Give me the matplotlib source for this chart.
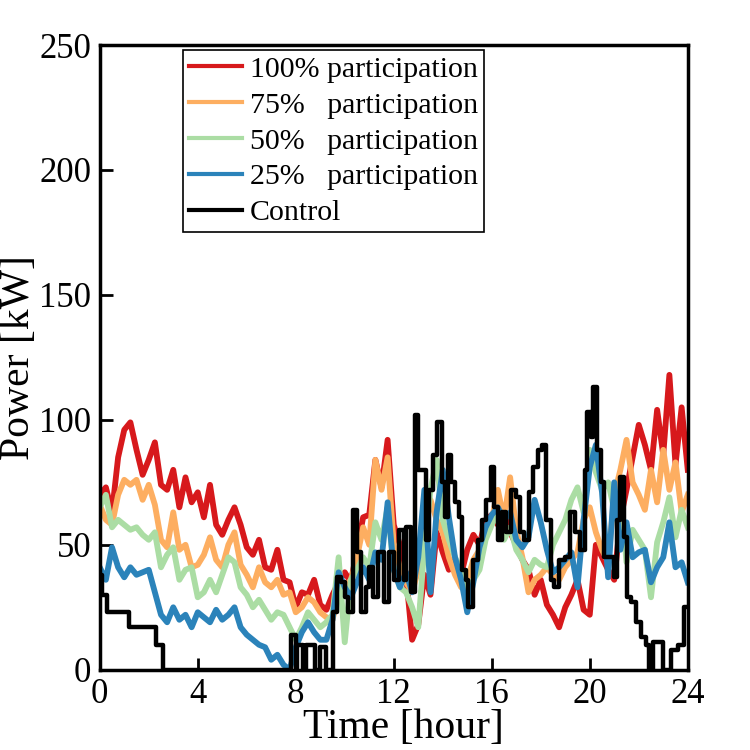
import numpy as np
import matplotlib
matplotlib.use('Agg')
import matplotlib.pyplot as plt

plt.rcParams['font.family'] = ['Liberation Serif', 'DejaVu Serif']

# time grid (hours), 15 min resolution
t = np.arange(0, 24.01, 0.25)

p100 = [70, 73, 63, 85, 96, 99, 88, 78, 84, 91, 74, 72, 80, 65, 77, 67,
        71, 61, 74, 58, 54, 60, 65, 58, 49, 46, 52, 41, 40, 48, 36, 35,
        25, 31, 30, 36, 26, 24, 30, 35, 39, 35, 48, 61, 62, 84, 73, 92,
        58, 50, 38, 12, 18, 38, 30, 55, 47, 40, 44, 38, 48, 54, 50, 60,
        62, 58, 64, 55, 50, 44, 40, 30, 36, 26, 22, 17, 25, 30, 36, 24,
        22, 50, 45, 40, 36, 60, 72, 85, 98, 90, 80, 104, 86, 118, 82, 105,
        80]

p75 = [66, 60, 58, 70, 76, 74, 76, 68, 74, 66, 52, 49, 63, 48, 50, 41,
       42, 46, 53, 44, 41, 50, 55, 42, 38, 33, 41, 35, 33, 36, 30, 31,
       23, 25, 29, 27, 23, 21, 20, 30, 33, 36, 45, 57, 50, 84, 72, 85,
       50, 41, 35, 31, 40, 57, 68, 60, 55, 45, 38, 33, 36, 44, 48, 55,
       60, 72, 60, 77, 56, 45, 31, 36, 38, 41, 38, 36, 41, 44, 47, 60,
       65, 55, 48, 43, 70, 80, 92, 75, 70, 64, 80, 67, 88, 72, 83, 63,
       70]

p50 = [65, 70, 57, 60, 58, 56, 57, 54, 52, 55, 41, 46, 49, 36, 40, 41,
       29, 31, 36, 31, 38, 45, 43, 33, 30, 25, 28, 24, 20, 23, 22, 17,
       12, 17, 23, 20, 17, 19, 22, 45, 11, 36, 40, 45, 41, 59, 52, 65,
       40, 33, 31, 25, 17, 49, 72, 84, 60, 52, 45, 40, 33, 36, 40, 52,
       58, 63, 52, 57, 48, 44, 39, 44, 42, 41, 50, 55, 60, 68, 73, 63,
       88, 79, 72, 75, 64, 72, 43, 56, 52, 48, 29, 51, 59, 69, 53, 64,
       57]

p25 = [41, 36, 49, 41, 37, 41, 38, 39, 40, 31, 22, 19, 25, 20, 22, 17,
       23, 21, 19, 24, 20, 22, 25, 17, 14, 12, 10, 9, 4, 6, 2, 0,
       9, 15, 19, 15, 12, 12, 20, 39, 33, 29, 35, 41, 36, 47, 44, 67,
       40, 33, 39, 31, 45, 72, 31, 63, 80, 61, 45, 36, 23, 35, 49, 57,
       62, 65, 60, 63, 52, 49, 53, 68, 59, 48, 39, 41, 44, 47, 33, 60,
       81, 90, 71, 37, 75, 48, 59, 45, 47, 48, 35, 41, 45, 59, 41, 43,
       35]

# control case is step-wise
t_ctrl = [0.0, 0.1, 0.3, 1.2, 2.3, 2.6, 7.8, 8.0, 8.05, 8.3, 8.4, 8.8,
          9.0, 9.25, 9.5, 9.7, 9.85, 10.0, 10.15, 10.35, 10.5, 10.65, 10.85,
          11.0, 11.15, 11.35, 11.6, 11.8, 12.0, 12.2, 12.4, 12.5, 12.7,
          12.85, 13.0, 13.3, 13.45, 13.6, 13.75, 13.95, 14.1, 14.2, 14.35,
          14.5, 14.65, 14.8, 14.95, 15.05, 15.25, 15.45, 15.6, 15.75, 15.95,
          16.1, 16.25, 16.4, 16.6, 16.8, 17.0, 17.15, 17.3, 17.5, 17.7,
          17.9, 18.05, 18.2, 18.4, 18.55, 18.75, 19.0, 19.2, 19.4, 19.6,
          19.8, 19.9, 20.05, 20.15, 20.3, 20.45, 20.6, 20.8, 21.0, 21.1,
          21.25, 21.4, 21.5, 21.7, 21.9, 22.1, 22.3, 22.4, 22.6, 23.0,
          23.3, 23.6, 23.85, 24.0]
p_ctrl = [38, 30, 23, 17, 10, 0, 14, 0, 10, 0, 10, 0,
          9, 0, 23, 37, 35, 29, 23, 64, 47, 23, 33,
          41, 29, 47, 27, 47, 36, 56, 36, 57, 31,
          102, 80, 52, 72, 86, 99, 75, 61, 86, 75,
          67, 61, 40, 36, 25, 44, 52, 60, 68, 81,
          65, 52, 63, 55, 72, 69, 55, 52, 71, 81,
          88, 90, 60, 36, 33, 44, 45, 63, 55, 48,
          80, 103, 93, 113, 88, 75, 45, 45, 37, 60,
          77, 53, 29, 27, 19, 13, 10, 0, 11, 0,
          8, 10, 25, 25]

labels = ['100% participation', '75%   participation', '50%   participation',
          '25%   participation', 'Control']
colors = ['#d7191c', '#fdae61', '#abdda4', '#2b83ba', 'black']

fig = plt.figure(figsize=(7.5, 7.5), dpi=100)
ax = fig.add_axes([0.133, 0.107, 0.784, 0.833])

for y, lab, c in zip([p100, p75, p50, p25], labels[:4], colors[:4]):
    ax.plot(t, y, color=c, lw=4.2, label=lab)
ax.plot(t_ctrl, p_ctrl, color='black', lw=3.2, drawstyle='steps-post',
        label=labels[4])

ax.set_xlim(0, 24)
ax.set_ylim(0, 250)
ax.set_xticks(np.arange(0, 25, 4))
ax.set_yticks(np.arange(0, 251, 50))
ax.tick_params(direction='in', length=9, width=2, labelsize=25, pad=6)
for s in ax.spines.values():
    s.set_linewidth(2.5)
ax.set_xlabel('Time [hour]', fontsize=30)
ax.set_ylabel('Power [kW]', fontsize=30)
ax.xaxis.set_label_coords(0.517, -0.062)
ax.yaxis.set_label_coords(-0.105, 0.5)

leg = ax.legend(loc='upper left', bbox_to_anchor=(0.141, 0.992),
                fontsize=21.5, fancybox=False, framealpha=1, edgecolor='black',
                handlelength=1.8, handletextpad=0.25, labelspacing=0.3,
                borderpad=0.2, borderaxespad=0)
leg.get_frame().set_linewidth(1.2)
for line in leg.get_lines():
    line.set_linewidth(3)

fig.savefig('out.png', dpi=100)
